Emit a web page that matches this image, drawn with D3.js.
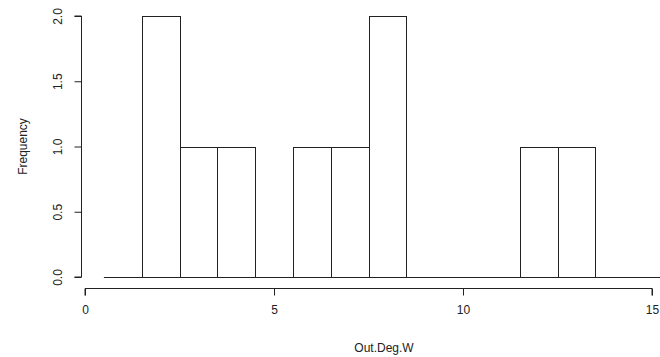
<!DOCTYPE html>
<html>
<head>
<meta charset="utf-8">
<script src="https://cdn.jsdelivr.net/npm/d3@7"></script>
<style>
  body { margin: 0; background: #fff; }
  svg { display: block; font-family: "Liberation Sans", Arial, sans-serif; }
</style>
</head>
<body>
<svg id="chart" width="660" height="357"></svg>
<script>
// histogram bins (left edge, right edge) and counts
const binStarts = [0.5, 1.5, 2.5, 3.5, 4.5, 5.5, 6.5, 7.5, 8.5, 9.5, 10.5, 11.5, 12.5, 13.5, 14.5];
const binWidth = 1;
const counts = [0, 2, 1, 1, 0, 1, 1, 2, 0, 0, 0, 1, 1, 0, 0];
const xTicks = [0, 5, 10, 15];
const yTicks = [0, 0.5, 1, 1.5, 2];

const svg = d3.select('#chart');

// x: 0 -> 85px, 15 -> 652px ; y: 0 -> 277px, 2 -> 16px
const x = d3.scaleLinear().domain([0, 15]).range([85, 652]);
const y = d3.scaleLinear().domain([0, 2]).range([277, 16]);

const bins = binStarts.map((b, i) => ({ x0: b, x1: b + binWidth, n: counts[i] }));

// bars (R draws every bin, zero-height ones collapse onto the baseline)
svg.append('g')
  .selectAll('rect')
  .data(bins.filter(d => d.n > 0))
  .enter()
  .append('rect')
  .attr('x', d => Math.round(x(d.x0)) + 0.5)
  .attr('y', d => Math.round(y(d.n)) + 0.5)
  .attr('width', d => Math.round(x(d.x1)) - Math.round(x(d.x0)))
  .attr('height', d => Math.round(y(0)) - Math.round(y(d.n)))
  .attr('fill', 'none')
  .attr('stroke', '#222')
  .attr('stroke-width', 1);

// baseline under all bins
svg.append('line')
  .attr('x1', x(binStarts[0]))
  .attr('x2', x(binStarts[binStarts.length - 1] + binWidth))
  .attr('y1', Math.round(y(0)) + 0.5)
  .attr('y2', Math.round(y(0)) + 0.5)
  .attr('stroke', '#222');

// x axis
const xAxis = d3.axisBottom(x).tickValues(xTicks).tickSize(7).tickPadding(10).tickFormat(d3.format('d'));
svg.append('g')
  .attr('transform', 'translate(0,288.5)')
  .call(xAxis)
  .call(g => g.select('.domain').attr('d', `M${x(0)},7V0H${x(15)}V7`).attr('stroke', '#222'))
  .call(g => g.selectAll('.tick line').attr('stroke', '#222'))
  .call(g => g.selectAll('.tick text').attr('font-size', 12).attr('fill', '#222').attr('font-family', null));

// y axis
const yAxis = d3.axisLeft(y).tickValues(yTicks).tickSize(7).tickFormat(d3.format('.1f'));
svg.append('g')
  .attr('transform', 'translate(81.5,0)')
  .call(yAxis)
  .call(g => g.select('.domain').attr('d', `M-7,${y(0)}H0V${y(2)}H-7`).attr('stroke', '#222'))
  .call(g => g.selectAll('.tick line').attr('stroke', '#222'))
  .call(g => g.selectAll('.tick text')
    .attr('font-size', 12).attr('fill', '#222').attr('font-family', null)
    .attr('x', null).attr('dy', null)
    .attr('text-anchor', 'middle')
    .attr('transform', 'translate(-20,0) rotate(-90)'));

// axis titles
svg.append('text')
  .attr('x', 384)
  .attr('y', 352)
  .attr('text-anchor', 'middle')
  .attr('font-size', 12)
  .attr('fill', '#222')
  .text('Out.Deg.W');

svg.append('text')
  .attr('transform', 'translate(27,146.5) rotate(-90)')
  .attr('text-anchor', 'middle')
  .attr('font-size', 12)
  .attr('fill', '#222')
  .text('Frequency');
</script>
</body>
</html>
